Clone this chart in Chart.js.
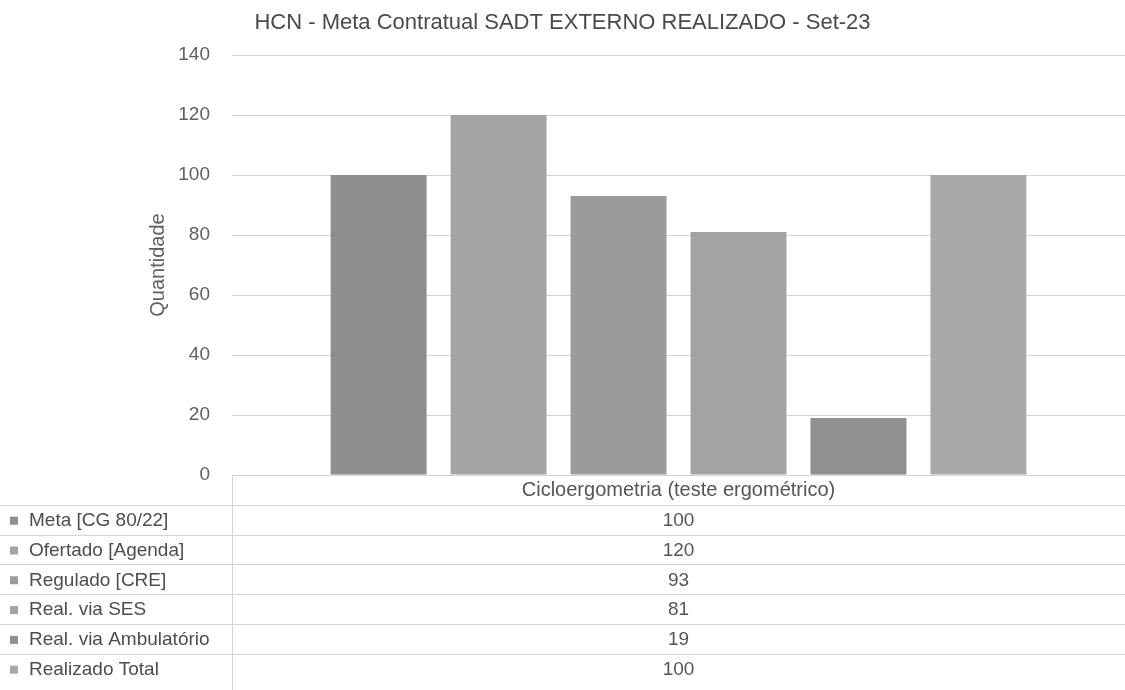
<!DOCTYPE html>
<html lang="pt-BR">
<head>
<meta charset="utf-8">
<title>HCN - Meta Contratual SADT EXTERNO REALIZADO - Set-23</title>
<script src="https://cdn.jsdelivr.net/npm/chart.js@4.4.0/dist/chart.umd.min.js"></script>
<style>
  html, body { margin: 0; padding: 0; background: #fff; }
  #wrap { width: 1125px; height: 690px; }
</style>
</head>
<body>
<div id="wrap"><canvas id="chart" width="1125" height="690"></canvas></div>
<script>
// -------- Data ----------
const chartTitle = "HCN - Meta Contratual SADT EXTERNO REALIZADO - Set-23";
const categories = ["Cicloergometria (teste ergométrico)"];
const seriesNames = ["Meta [CG 80/22]", "Ofertado [Agenda]", "Regulado [CRE]", "Real. via SES", "Real. via Ambulatório", "Realizado Total"];
const meta = [100];
const ofertado = [120];
const regulado = [93];
const realSes = [81];
const realAmbulatorio = [19];
const realizadoTotal = [100];
const yTicks = [0, 20, 40, 60, 80, 100, 120, 140];

const seriesValues = [meta, ofertado, regulado, realSes, realAmbulatorio, realizadoTotal];
const barColors = ["#8e8e8e", "#a4a4a4", "#9b9b9b", "#a3a3a3", "#909090", "#a9a9a9"];

const textColor = "#4d4d4d";
const lineColor = "#d4d4d4";
const fontFamily = "'Liberation Sans', Arial, sans-serif";

// -------- Title centred on the whole picture ----------
const pageTitle = {
  id: "pageTitle",
  afterDraw(chart) {
    const { ctx, width } = chart;
    ctx.save();
    ctx.font = "22px " + fontFamily;
    ctx.fillStyle = "#4a4a4a";
    ctx.textAlign = "center";
    ctx.textBaseline = "middle";
    ctx.fillText(chartTitle, width / 2, 23);
    ctx.restore();
  }
};

// -------- Data table under the plot ----------
const dataTable = {
  id: "dataTable",
  afterDraw(chart) {
    const { ctx, chartArea, width, height } = chart;
    const x = chart.scales.x;
    const top = chartArea.bottom;
    const rowH = 29.8;
    const cx = x.getPixelForValue(0);

    ctx.save();
    ctx.strokeStyle = lineColor;
    ctx.lineWidth = 1;

    // vertical separator
    ctx.beginPath();
    ctx.moveTo(Math.round(chartArea.left) + 0.5, top);
    ctx.lineTo(Math.round(chartArea.left) + 0.5, height);
    ctx.stroke();

    ctx.fillStyle = "#555";
    ctx.textBaseline = "middle";

    // header row: category
    ctx.textAlign = "center";
    ctx.font = "20px " + fontFamily;
    categories.forEach(c => ctx.fillText(c, cx, top + rowH / 2 + 1));
    ctx.font = "19px " + fontFamily;

    chart.data.datasets.forEach((ds, i) => {
      const y0 = top + rowH * (i + 1);
      ctx.beginPath();
      ctx.moveTo(0, Math.round(y0) + 0.5);
      ctx.lineTo(width, Math.round(y0) + 0.5);
      ctx.stroke();

      const ym = y0 + rowH / 2 + 1;
      ctx.fillStyle = ds.backgroundColor;
      ctx.fillRect(10, ym - 4, 8, 8);

      ctx.fillStyle = textColor;
      ctx.textAlign = "left";
      ctx.fillText(ds.label, 29, ym);
      ctx.fillStyle = "#555";
      ctx.textAlign = "center";
      ctx.fillText(String(ds.data[0]), cx, ym);
    });
    ctx.restore();
  }
};

// -------- Chart ----------
const ctx = document.getElementById("chart").getContext("2d");
new Chart(ctx, {
  type: "bar",
  data: {
    labels: categories,
    datasets: seriesNames.map((name, i) => ({
      label: name,
      data: seriesValues[i],
      backgroundColor: barColors[i],
      borderWidth: 0,
      categoryPercentage: 0.806,
      barPercentage: 0.8
    }))
  },
  options: {
    responsive: false,
    animation: false,
    devicePixelRatio: 1,
    layout: { padding: { left: 146, right: 0, top: 55, bottom: 215 } },
    plugins: {
      legend: { display: false },
      tooltip: { enabled: false },
      title: { display: false }
    },
    scales: {
      x: { display: false },
      y: {
        min: yTicks[0],
        max: yTicks[yTicks.length - 1],
        afterBuildTicks: (scale) => { scale.ticks = yTicks.map(v => ({ value: v })); },
        afterFit: (scale) => { scale.width = 86; },
        border: { display: false },
        grid: { color: lineColor, drawTicks: false },
        ticks: {
          padding: 22,
          color: "#606060",
          font: { family: fontFamily, size: 19 }
        },
        title: {
          display: true,
          text: "Quantidade",
          color: "#606060",
          padding: 0,
          font: { family: fontFamily, size: 20 }
        }
      }
    }
  },
  plugins: [pageTitle, dataTable]
});
</script>
</body>
</html>
